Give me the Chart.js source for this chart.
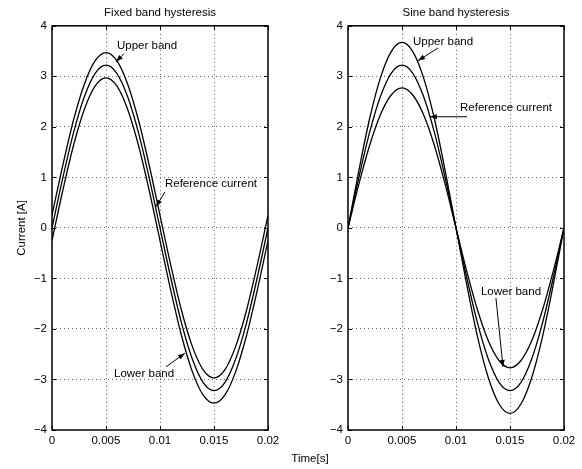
<!DOCTYPE html>
<html>
<head>
<meta charset="utf-8">
<script src="https://cdn.jsdelivr.net/npm/chart.js@4.4.0/dist/chart.umd.min.js"></script>
<style>
body { margin: 0; background: #fff; }
#wrap { position: relative; width: 582px; height: 469px; font-family: 'Liberation Sans', Arial, sans-serif; }
.box { position: absolute; top: 0; height: 469px; }
#xlabel { position: absolute; left: 270px; width: 80px; top: 452px; line-height: 13px; text-align: center; font-size: 11.5px; color: #000; }
</style>
</head>
<body>
<div id="wrap">
  <div class="box" style="left:0;width:290px"><canvas id="left"></canvas></div>
  <div class="box" style="left:290px;width:292px"><canvas id="right"></canvas></div>
  <div id="xlabel">Time[s]</div>
</div>
<script>
// sample times (s)
const time = [0, 0.001, 0.002, 0.003, 0.004, 0.005, 0.006, 0.007, 0.008, 0.009, 0.01,
              0.011, 0.012, 0.013, 0.014, 0.015, 0.016, 0.017, 0.018, 0.019, 0.02];

// left: fixed band
const fixedUpper = [0.25, 1.24, 2.14, 2.85, 3.31, 3.47, 3.31, 2.85, 2.14, 1.24, 0.25,
                    -0.74, -1.64, -2.35, -2.81, -2.97, -2.81, -2.35, -1.64, -0.74, 0.25];
const fixedRef   = [0, 0.99, 1.89, 2.60, 3.06, 3.22, 3.06, 2.60, 1.89, 0.99, 0,
                    -0.99, -1.89, -2.60, -3.06, -3.22, -3.06, -2.60, -1.89, -0.99, 0];
const fixedLower = [-0.25, 0.74, 1.64, 2.35, 2.81, 2.97, 2.81, 2.35, 1.64, 0.74, -0.25,
                    -1.24, -2.14, -2.85, -3.31, -3.47, -3.31, -2.85, -2.14, -1.24, -0.25];

// right: sine band
const sineUpper = [0, 1.13, 2.16, 2.97, 3.49, 3.67, 3.49, 2.97, 2.16, 1.13, 0,
                   -1.13, -2.16, -2.97, -3.49, -3.67, -3.49, -2.97, -2.16, -1.13, 0];
const sineRef   = [0, 0.99, 1.89, 2.60, 3.06, 3.22, 3.06, 2.60, 1.89, 0.99, 0,
                   -0.99, -1.89, -2.60, -3.06, -3.22, -3.06, -2.60, -1.89, -0.99, 0];
const sineLower = [0, 0.86, 1.63, 2.24, 2.63, 2.77, 2.63, 2.24, 1.63, 0.86, 0,
                   -0.86, -1.63, -2.24, -2.63, -2.77, -2.63, -2.24, -1.63, -0.86, 0];

const xTicks = [0, 0.005, 0.01, 0.015, 0.02];
const xTickLabels = ['0', '0.005', '0.01', '0.015', '0.02'];
const yTicks = [-4, -3, -2, -1, 0, 1, 2, 3, 4];

// annotations (data coords): text position, arrow tail, arrow tip
const fixedNotes = [
    {text: 'Upper band', x: 0.00602, y: 3.60, from: [0.00667, 3.45], to: [0.00593, 3.29]},
    {text: 'Reference current', x: 0.01046, y: 0.87, from: [0.01046, 0.71], to: [0.00963, 0.42]},
    {text: 'Lower band', x: 0.00574, y: -2.89, from: [0.01056, -2.75], to: [0.01231, -2.48]}
];
const sineNotes = [
    {text: 'Upper band', x: 0.00602, y: 3.68, from: [0.00833, 3.56], to: [0.00648, 3.31]},
    {text: 'Reference current', x: 0.01037, y: 2.38, from: [0.01102, 2.20], to: [0.00759, 2.20]},
    {text: 'Lower band', x: 0.01231, y: -1.27, from: [0.01370, -1.39], to: [0.01435, -2.75]}
];

const FONT = "'Liberation Sans', Arial, sans-serif";
const FSIZE = 11.5;

// box, inward ticks and arrow labels like matlab
const matlabBox = {
    id: 'matlabBox',
    afterDatasetsDraw(chart, args, opts) {
        const ctx = chart.ctx;
        const a = chart.chartArea;
        const x = chart.scales.x, y = chart.scales.y;
        ctx.save();
        ctx.strokeStyle = '#000';
        ctx.lineWidth = 1;
        ctx.beginPath();
        xTicks.forEach(v => {
            const px = Math.round(x.getPixelForValue(v)) + 0.5;
            ctx.moveTo(px, a.bottom); ctx.lineTo(px, a.bottom - 4);
            ctx.moveTo(px, a.top); ctx.lineTo(px, a.top + 4);
        });
        yTicks.forEach(v => {
            const py = Math.round(y.getPixelForValue(v)) + 0.5;
            ctx.moveTo(a.left, py); ctx.lineTo(a.left + 4, py);
            ctx.moveTo(a.right, py); ctx.lineTo(a.right - 4, py);
        });
        ctx.stroke();
        ctx.lineWidth = 1.5;
        ctx.strokeRect(a.left, a.top, a.width, a.height);

        ctx.font = FSIZE + 'px ' + FONT;
        ctx.fillStyle = '#000';
        ctx.textBaseline = 'middle';
        ctx.textAlign = 'left';
        (opts.notes || []).forEach(n => {
            ctx.fillText(n.text, x.getPixelForValue(n.x), y.getPixelForValue(n.y));
            const x0 = x.getPixelForValue(n.from[0]), y0 = y.getPixelForValue(n.from[1]);
            const x1 = x.getPixelForValue(n.to[0]), y1 = y.getPixelForValue(n.to[1]);
            const ang = Math.atan2(y1 - y0, x1 - x0);
            ctx.lineWidth = 1;
            ctx.beginPath();
            ctx.moveTo(x0, y0);
            ctx.lineTo(x1, y1);
            ctx.stroke();
            ctx.beginPath();
            ctx.moveTo(x1, y1);
            ctx.lineTo(x1 - 7 * Math.cos(ang) + 2.5 * Math.sin(ang), y1 - 7 * Math.sin(ang) - 2.5 * Math.cos(ang));
            ctx.lineTo(x1 - 7 * Math.cos(ang) - 2.5 * Math.sin(ang), y1 - 7 * Math.sin(ang) + 2.5 * Math.cos(ang));
            ctx.closePath();
            ctx.fill();
        });
        ctx.restore();
    }
};

function line(values) {
    return {
        data: time.map((t, i) => ({x: t, y: values[i]})),
        borderColor: '#000',
        borderWidth: 1.3,
        pointRadius: 0,
        cubicInterpolationMode: 'monotone',
        fill: false
    };
}

function gridColor(min, max) {
    return c => (c.tick && (c.tick.value === min || c.tick.value === max)) ? 'rgba(0,0,0,0)' : '#666';
}

function makeChart(id, series, notes, title, yTitle, yWidth, padRight) {
    new Chart(document.getElementById(id), {
        type: 'line',
        data: {datasets: series.map(line)},
        options: {
            responsive: true,
            maintainAspectRatio: false,
            animation: false,
            layout: {padding: {left: 0, right: padRight, top: 0, bottom: 0}},
            plugins: {
                legend: {display: false},
                tooltip: {enabled: false},
                title: {
                    display: true,
                    text: title,
                    fullSize: false,
                    color: '#000',
                    font: {family: FONT, size: FSIZE, weight: 'normal'},
                    padding: {top: 6, bottom: 6}
                },
                matlabBox: {notes: notes}
            },
            scales: {
                x: {
                    type: 'linear',
                    min: 0, max: 0.02,
                    afterBuildTicks: s => { s.ticks = xTicks.map(v => ({value: v})); },
                    afterFit: s => { s.height = 39; },
                    ticks: {
                        color: '#000',
                        font: {family: FONT, size: FSIZE},
                        padding: 4,
                        maxRotation: 0,
                        autoSkip: false,
                        callback: (v) => xTickLabels[xTicks.indexOf(v)]
                    },
                    grid: {color: gridColor(0, 0.02), drawTicks: false, lineWidth: 1},
                    border: {display: false, dash: [1, 3]}
                },
                y: {
                    min: -4, max: 4,
                    afterBuildTicks: s => { s.ticks = yTicks.map(v => ({value: v})); },
                    afterFit: s => { s.width = yWidth; },
                    ticks: {
                        color: '#000',
                        font: {family: FONT, size: FSIZE},
                        padding: 5,
                        callback: v => String(v).replace('-', '\u2212')
                    },
                    title: {
                        display: !!yTitle,
                        text: yTitle,
                        color: '#000',
                        font: {family: FONT, size: FSIZE},
                        padding: {top: 15, bottom: 0}
                    },
                    grid: {color: gridColor(-4, 4), drawTicks: false, lineWidth: 1},
                    border: {display: false, dash: [1, 3]}
                }
            }
        },
        plugins: [matlabBox]
    });
}

makeChart('left', [fixedUpper, fixedRef, fixedLower], fixedNotes, 'Fixed band hysteresis', 'Current [A]', 52, 22);
makeChart('right', [sineUpper, sineRef, sineLower], sineNotes, 'Sine band hysteresis', '', 58, 18);
</script>
</body>
</html>
